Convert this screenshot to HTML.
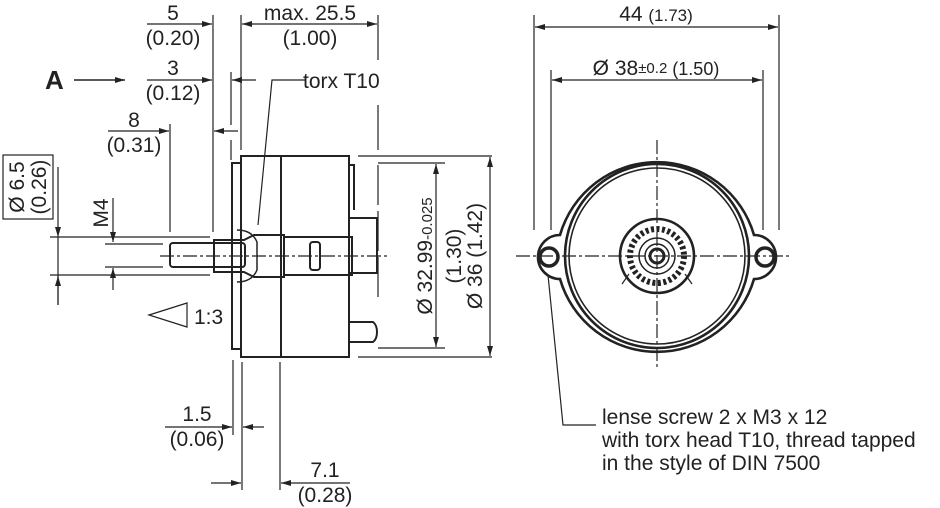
<!DOCTYPE html>
<html><head><meta charset="utf-8"><style>
html,body{margin:0;padding:0;background:#fff;}
svg{display:block;font-family:"Liberation Sans",sans-serif;}
text{fill:#222;}
</style></head><body>
<svg width="940" height="508" viewBox="0 0 940 508" xmlns="http://www.w3.org/2000/svg">
<defs>
<marker id="a" viewBox="0 0 10 6" refX="10" refY="3" markerWidth="10" markerHeight="6" orient="auto-start-reverse" markerUnits="userSpaceOnUse"><path d="M0,0L10,3L0,6z" fill="#222"/></marker>
</defs>
<g stroke="#222" fill="none" stroke-width="1.2">
<line x1="213" y1="15" x2="213" y2="232"/>
<line x1="241" y1="15" x2="241" y2="150"/>
<line x1="378" y1="15" x2="378" y2="60"/>
<line x1="378" y1="105" x2="378" y2="150"/>
<line x1="231" y1="72" x2="231" y2="125"/>
<line x1="231" y1="140" x2="231" y2="160"/>
<line x1="170" y1="124" x2="170" y2="232"/>
<line x1="147" y1="24" x2="212" y2="24" marker-end="url(#a)"/>
<line x1="242" y1="24" x2="377" y2="24" marker-start="url(#a)" marker-end="url(#a)"/>
<line x1="147" y1="80" x2="212" y2="80" marker-end="url(#a)"/>
<line x1="232" y1="80" x2="256" y2="80" marker-start="url(#a)"/>
<line x1="108" y1="131" x2="169" y2="131" marker-end="url(#a)"/>
<line x1="214" y1="131" x2="238" y2="131" marker-start="url(#a)"/>
<line x1="74" y1="80" x2="125" y2="80" stroke-width="1.6" marker-end="url(#a)"/>
<polyline points="305,80 272,80 258,225"/>
<g stroke-width="2">
<rect x="241" y="156" width="108" height="201"/>
<rect x="232" y="163" width="9" height="186"/>
<line x1="281" y1="156" x2="281" y2="357"/>
<path d="M349,165 h5 v45 M349,218 h28 v55 h-28 M349,322 h24 q4,3 4,10 q0,7 -4,10 h-24"/>
<rect x="170" y="243" width="75" height="24" rx="3"/>
<path d="M214,240 h30 l10,-5 h30 v42 h-30 l-10,-5 h-30 z"/>
<rect x="284" y="237" width="68" height="38"/>
<rect x="310" y="242" width="10" height="28" rx="3"/>
</g>
<path d="M237,230 q15,0 20,12 v28 q-5,12 -20,12" stroke-width="1.5"/>
<line x1="160" y1="256" x2="390" y2="256" stroke-dasharray="14,3,3,3"/>
<rect x="3" y="155" width="50" height="64"/>
<line x1="58" y1="167" x2="58" y2="237" marker-end="url(#a)"/>
<line x1="58" y1="305" x2="58" y2="276" marker-end="url(#a)"/>
<line x1="50" y1="237" x2="210" y2="237"/>
<line x1="50" y1="275" x2="210" y2="275"/>
<line x1="58" y1="237" x2="58" y2="305"/>
<line x1="113" y1="198" x2="113" y2="242" marker-end="url(#a)"/>
<line x1="113" y1="290" x2="113" y2="268" marker-end="url(#a)"/>
<line x1="105" y1="244" x2="163" y2="244"/>
<line x1="105" y1="267" x2="163" y2="267"/>
<path d="M149,315 L187,303 V327 Z"/>
<line x1="358" y1="156" x2="492" y2="156"/>
<line x1="378" y1="163" x2="445" y2="163"/>
<line x1="378" y1="348" x2="445" y2="348"/>
<line x1="358" y1="357" x2="492" y2="357"/>
<line x1="436" y1="164" x2="436" y2="347" marker-start="url(#a)" marker-end="url(#a)"/>
<line x1="490" y1="157" x2="490" y2="356" marker-start="url(#a)" marker-end="url(#a)"/>
<line x1="378" y1="165" x2="378" y2="300" stroke-dasharray="40,6"/>
<line x1="233" y1="360" x2="233" y2="435"/>
<line x1="242" y1="362" x2="242" y2="490"/>
<line x1="280" y1="362" x2="280" y2="490"/>
<line x1="165" y1="427" x2="232" y2="427" marker-end="url(#a)"/>
<line x1="243" y1="427" x2="264" y2="427" marker-start="url(#a)"/>
<line x1="211" y1="483" x2="241" y2="483" marker-end="url(#a)"/>
<line x1="281" y1="483" x2="350" y2="483" marker-start="url(#a)"/>
<line x1="534" y1="15" x2="534" y2="230"/>
<line x1="779" y1="15" x2="779" y2="230"/>
<line x1="551" y1="70" x2="551" y2="230"/>
<line x1="763" y1="70" x2="763" y2="230"/>
<line x1="535" y1="27" x2="778" y2="27" marker-start="url(#a)" marker-end="url(#a)"/>
<line x1="552" y1="80" x2="762" y2="80" marker-start="url(#a)" marker-end="url(#a)"/>
<line x1="516" y1="256" x2="790" y2="256" stroke-dasharray="14,3,3,3"/>
<line x1="657" y1="140" x2="657" y2="370" stroke-dasharray="14,3,3,3"/>
<g stroke-width="2.6">
<path d="M560,235 A101,101 0 0 1 754,235 A17,17 0 1 1 754,279 A101,101 0 0 1 560,279 A17,17 0 1 1 560,235 Z" fill="none"/>
<circle cx="657" cy="256" r="92"/>
<circle cx="549" cy="257" r="9" stroke-width="3.5"/>
<circle cx="765" cy="257" r="9" stroke-width="3.5"/>
<circle cx="657" cy="256" r="37"/>
</g>
<circle cx="657" cy="256" r="88" stroke-width="1.6"/>
<circle cx="657" cy="256" r="27" stroke-width="6" stroke-dasharray="3,2.5"/>
<circle cx="657" cy="256" r="18" stroke-width="1.5"/>
<circle cx="657" cy="256" r="12" stroke-width="1.5"/>
<circle cx="657" cy="256" r="7" stroke-width="3"/>
<line x1="629" y1="274" x2="622" y2="284"/>
<line x1="685" y1="274" x2="692" y2="284"/>
<polyline points="548,275 563,425 596,425"/>
</g>
<g font-size="21">
<text x="173" y="20" text-anchor="middle">5</text>
<text x="173" y="45" text-anchor="middle">(0.20)</text>
<text x="310" y="20" text-anchor="middle">max. 25.5</text>
<text x="310" y="45" text-anchor="middle">(1.00)</text>
<text x="173" y="75" text-anchor="middle">3</text>
<text x="173" y="100" text-anchor="middle">(0.12)</text>
<text x="134" y="127" text-anchor="middle">8</text>
<text x="134" y="152" text-anchor="middle">(0.31)</text>
<text x="303" y="88">torx T10</text>
<text x="45" y="89" font-size="26" font-weight="bold">A</text>
<text x="194" y="324">1:3</text>
<text x="197" y="421" text-anchor="middle">1.5</text>
<text x="197" y="446" text-anchor="middle">(0.06)</text>
<text x="325" y="477" text-anchor="middle">7.1</text>
<text x="325" y="502" text-anchor="middle">(0.28)</text>
<text x="28" y="187" text-anchor="middle" transform="rotate(-90 28 187) translate(0,-4)">Ø 6.5</text>
<text x="44" y="187" text-anchor="middle" transform="rotate(-90 44 187) translate(0,2)">(0.26)</text>
<text x="108" y="213" text-anchor="middle" transform="rotate(-90 108 213)">M4</text>
<text x="432" y="256" text-anchor="middle" transform="rotate(-90 432 256)">Ø 32.99<tspan font-size="15">-0.025</tspan></text>
<text x="461" y="256" text-anchor="middle" transform="rotate(-90 461 256)">(1.30)</text>
<text x="482" y="256" text-anchor="middle" transform="rotate(-90 482 256)">Ø 36 (1.42)</text>
<text x="656" y="21" text-anchor="middle">44 <tspan font-size="17">(1.73)</tspan></text>
<text x="656" y="75" text-anchor="middle">Ø 38<tspan font-size="15" dy="-2">±0.2</tspan><tspan font-size="18" dy="2"> (1.50)</tspan></text>
<text x="602" y="424">lense screw 2 x M3 x 12</text>
<text x="602" y="447">with torx head T10, thread tapped</text>
<text x="602" y="470">in the style of DIN 7500</text>
</g>
</svg>
</body></html>
